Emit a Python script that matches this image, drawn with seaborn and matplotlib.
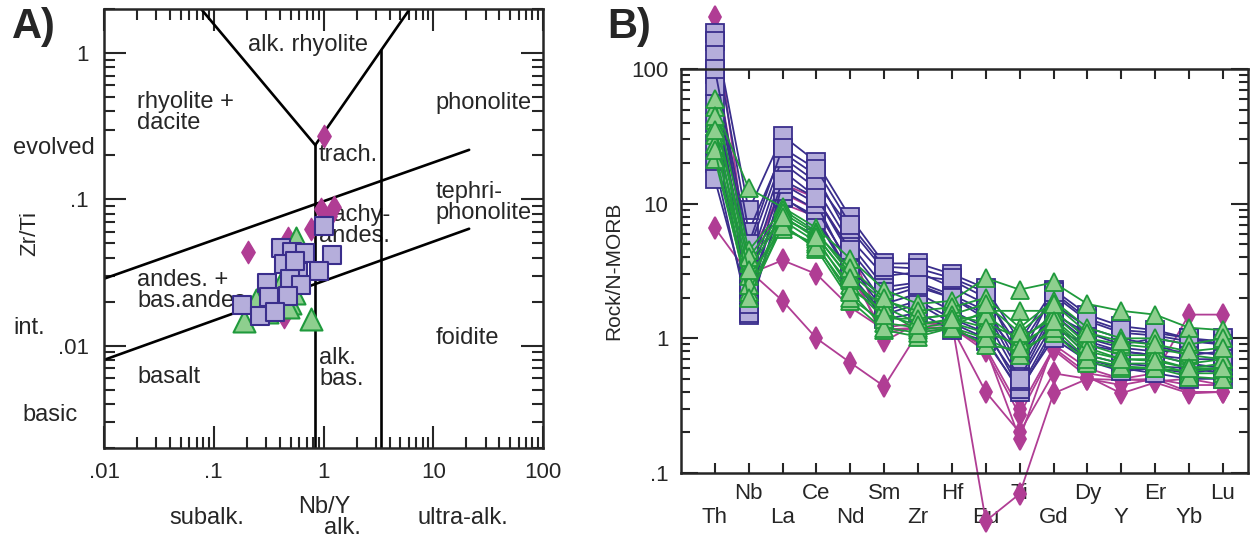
import pandas as pd
import seaborn as sns
import matplotlib.pyplot as plt
from matplotlib.ticker import FixedLocator, FixedFormatter, LogLocator, NullFormatter

sns.set_style("ticks")
plt.rcParams['font.family'] = ['Liberation Sans', 'DejaVu Sans']
plt.rcParams['axes.linewidth'] = 1.8

# ---------------- panel A : Nb/Y vs Zr/Ti ----------------
sq_nby = [0.41, 0.516, 0.678, 1.19, 0.437, 0.586, 0.91, 0.305, 0.495, 0.181,
          0.264, 0.318, 1.0, 0.55, 0.62, 0.47, 0.36]
sq_zrti = [0.0467, 0.0438, 0.0432, 0.0418, 0.0363, 0.032, 0.0325, 0.0269, 0.0287, 0.019,
           0.016, 0.0216, 0.066, 0.038, 0.026, 0.022, 0.017]
tri_nby = [0.41, 0.538, 0.361, 0.495, 0.305, 0.189, 0.77, 0.243, 0.56, 0.47]
tri_zrti = [0.0269, 0.023, 0.0197, 0.0197, 0.017, 0.0148, 0.0153, 0.0206, 0.0546, 0.0185]
dia_nby = [0.205, 1.0, 0.95, 1.25, 1.15, 0.77, 0.475, 0.437]
dia_zrti = [0.0438, 0.271, 0.086, 0.089, 0.077, 0.063, 0.0546, 0.0158]

# field boundaries (x list, y list)
boundaries = [
    ([0.0766, 0.84], [2.0, 0.235]),
    ([0.84, 6.1], [0.235, 2.0]),
    ([0.84, 0.84], [0.235, 0.002]),
    ([3.35, 3.35], [1.05, 0.002]),
    ([0.01, 21.2], [0.0287, 0.218]),
    ([0.01, 21.2], [0.0080, 0.063]),
]

# field names: (text, x, y, alignment)
field_labels = [
    ("alk. rhyolite", 0.72, 1.13, "center"),
    ("rhyolite +\ndacite", 0.02, 0.393, "left"),
    ("phonolite", 10.4, 0.456, "left"),
    ("trach.", 0.91, 0.201, "left"),
    ("tephri-\nphonolite", 10.4, 0.0955, "left"),
    ("trachy-\nandes.", 0.91, 0.0665, "left"),
    ("andes. +\nbas.andes.", 0.02, 0.0239, "left"),
    ("foidite", 10.4, 0.01135, "left"),
    ("alk.\nbas.", 0.91, 0.00702, "left"),
    ("basalt", 0.02, 0.00614, "left"),
]

# ---------------- panel B : N-MORB normalised spider ----------------
elements = ['Th', 'Nb', 'La', 'Ce', 'Nd', 'Sm', 'Zr', 'Hf', 'Eu', 'Ti',
            'Gd', 'Dy', 'Y', 'Er', 'Yb', 'Lu']

sq_profiles = [
    [186, 8.9, 32, 20.4, 7.9, 3.6, 3.6, 3.0, 2.35, 0.95, 2.3, 1.5, 1.23, 1.15, 1.0, 0.95],
    [160, 6.2, 24, 16.2, 5.5, 2.9, 3.1, 2.4, 1.8, 0.6, 1.8, 1.2, 1.0, 0.89, 0.75, 0.8],
    [127, 2.9, 17.5, 11.2, 4.1, 1.8, 2.15, 1.6, 1.2, 0.42, 1.2, 0.89, 0.8, 0.75, 0.65, 0.6],
    [92, 1.55, 11.2, 7.6, 2.9, 1.38, 1.55, 1.15, 0.95, 0.42, 1.0, 0.68, 0.57, 0.6, 0.55, 0.6],
    [55, 3.5, 20, 13, 5.0, 2.4, 2.6, 2.1, 1.6, 0.55, 1.6, 1.0, 0.85, 0.8, 0.8, 0.75],
    [27.6, 2.2, 12.5, 9.0, 3.5, 1.6, 1.9, 1.4, 1.1, 0.48, 1.3, 0.75, 0.65, 0.62, 0.6, 0.55],
    [15.2, 1.8, 14, 10, 3.2, 2.0, 2.4, 2.0, 1.5, 0.75, 1.5, 1.1, 0.9, 1.0, 0.9, 1.0],
    [75, 4.5, 22, 14.5, 6.5, 3.2, 2.9, 2.7, 2.0, 0.85, 2.1, 1.35, 1.1, 1.05, 0.95, 0.9],
    [100, 5.0, 26, 18, 7.0, 3.4, 3.3, 2.8, 2.2, 0.7, 2.2, 1.4, 1.15, 1.1, 1.0, 0.9],
    [40, 2.5, 15, 11, 4.5, 2.2, 2.5, 2.0, 1.4, 0.5, 1.5, 0.95, 0.8, 0.75, 0.7, 0.7],
    [20, 1.5, 11, 8.0, 3.0, 1.5, 1.8, 1.3, 1.0, 0.4, 1.1, 0.7, 0.6, 0.55, 0.5, 0.5],
]
tri_profiles = [
    [52, 13, 9.4, 6.6, 3.9, 2.3, 1.8, 1.9, 2.8, 2.3, 2.6, 1.8, 1.6, 1.5, 1.2, 1.15],
    [42, 3.6, 8.1, 5.5, 2.3, 1.6, 1.15, 1.23, 1.6, 1.6, 1.6, 1.0, 0.9, 0.85, 0.75, 0.7],
    [32.6, 2.04, 7.0, 4.6, 1.9, 1.15, 1.03, 1.2, 0.89, 0.82, 1.1, 0.66, 0.6, 0.6, 0.57, 0.6],
    [27.6, 2.9, 6.5, 5.0, 2.0, 1.3, 1.2, 1.3, 1.1, 0.9, 1.3, 0.75, 0.65, 0.65, 0.55, 0.55],
    [21.6, 2.2, 7.5, 5.2, 2.5, 1.4, 1.4, 1.5, 1.3, 1.0, 1.4, 0.85, 0.7, 0.7, 0.6, 0.65],
    [60, 4.5, 9.0, 6.2, 3.0, 1.9, 1.6, 1.7, 2.0, 1.2, 1.9, 1.2, 1.0, 1.0, 0.9, 1.0],
    [38, 2.5, 7.8, 5.8, 2.7, 1.7, 1.3, 1.35, 1.5, 0.95, 1.5, 0.9, 0.75, 0.75, 0.65, 0.7],
    [45, 4.0, 8.5, 6.0, 3.3, 2.0, 1.4, 1.5, 1.8, 1.1, 1.8, 1.1, 0.95, 0.9, 0.8, 0.85],
    [25, 2.0, 6.8, 4.8, 2.2, 1.2, 1.1, 1.2, 1.0, 0.75, 1.2, 0.7, 0.62, 0.6, 0.52, 0.5],
    [35, 3.2, 8.0, 5.7, 2.8, 1.5, 1.25, 1.4, 1.2, 0.85, 1.35, 0.8, 0.7, 0.68, 0.6, 0.6],
]
dia_profiles = [
    [242, 3.4, 14, 11, 4.5, 1.2, 1.3, 1.3, 0.044, 0.07, 0.39, 0.5, 0.45, 0.5, 0.45, 0.45],
    [6.6, 3.0, 3.8, 3.0, 1.7, 1.16, 1.2, 1.2, 0.8, 0.27, 0.82, 0.52, 0.39, 0.47, 0.39, 0.40],
    [60, 3.2, 1.9, 1.0, 0.66, 0.44, 1.1, 1.2, 0.4, 0.2, 0.55, 0.5, 0.49, 0.5, 0.4, 0.4],
    [120, 4.0, 12, 9, 3.5, 0.95, 1.3, 1.25, 0.85, 0.18, 0.9, 0.6, 0.5, 0.55, 1.5, 1.5],
    [90, 3.6, 10, 8, 3.0, 1.1, 1.2, 1.2, 0.85, 0.3, 0.85, 0.55, 0.5, 0.48, 0.5, 0.45],
]

# colours
SQ_FILL, SQ_EDGE = '#b5aedb', '#3a2e8c'
TRI_FILL, TRI_EDGE = '#8ecf8e', '#1f9a3c'
DIA_FILL, DIA_EDGE = '#b03d94', '#b03d94'


def profiles_to_df(profiles, group):
    rows = []
    for k, prof in enumerate(profiles):
        for i, v in enumerate(prof):
            rows.append({'sample': '%s%d' % (group, k), 'pos': i, 'value': v})
    return pd.DataFrame(rows)


def fig_xy(px, py):
    # pixel position (from top-left) -> figure fraction
    return px / 1258, (541 - py) / 541


fig = plt.figure(figsize=(12.58, 5.41), dpi=100)
axA = fig.add_axes([0.0827, 0.1719, 0.349, 0.8115])
axB = fig.add_axes([0.5413, 0.1257, 0.4507, 0.7468])

# ---- panel A
axA.set_xscale('log')
axA.set_yscale('log')
for bx, by in boundaries:
    axA.plot(bx, by, color='black', lw=1.9, zorder=2)

sns.scatterplot(x=dia_nby, y=dia_zrti, marker='d', s=130, color=DIA_FILL,
                edgecolor=DIA_EDGE, linewidth=1, ax=axA, zorder=3)
sns.scatterplot(x=tri_nby, y=tri_zrti, marker='^', s=250, color=TRI_FILL,
                edgecolor=TRI_EDGE, linewidth=1.5, ax=axA, zorder=4)
sns.scatterplot(x=sq_nby, y=sq_zrti, marker='s', s=180, color=SQ_FILL,
                edgecolor=SQ_EDGE, linewidth=1.5, ax=axA, zorder=5)

for txt, x, y, ha in field_labels:
    axA.text(x, y, txt, ha=ha, va='center', fontsize=17, linespacing=0.92, zorder=1)

axA.set_xlim(0.01, 100)
axA.set_ylim(0.002, 2)
axA.xaxis.set_major_locator(FixedLocator([0.01, 0.1, 1, 10, 100]))
axA.xaxis.set_major_formatter(FixedFormatter(['.01', '.1', '1', '10', '100']))
axA.yaxis.set_major_locator(FixedLocator([0.01, 0.1, 1]))
axA.yaxis.set_major_formatter(FixedFormatter(['.01', '.1', '1']))
for axis in (axA.xaxis, axA.yaxis):
    axis.set_minor_locator(LogLocator(base=10, subs=range(2, 10), numticks=20))
    axis.set_minor_formatter(NullFormatter())
axA.tick_params(which='both', direction='in', top=True, right=True, width=1.5,
                labelsize=16)
axA.tick_params(which='major', length=16)
axA.tick_params(which='minor', length=8)
axA.tick_params(axis='y', pad=11)
axA.tick_params(axis='x', pad=10)
axA.set_xlabel('')
axA.set_ylabel('')

fig.text(*fig_xy(12, 27), 'A)', fontsize=30, fontweight='bold', va='center')
fig.text(*fig_xy(13, 148), 'evolved', fontsize=17, va='center')
fig.text(*fig_xy(13, 328), 'int.', fontsize=17, va='center')
fig.text(*fig_xy(22, 415), 'basic', fontsize=17, va='center')
fig.text(*fig_xy(30, 234), 'Zr/Ti', fontsize=16, rotation=90, ha='center', va='center')
fig.text(*fig_xy(207, 518), 'subalk.', fontsize=17, ha='center', va='center')
fig.text(*fig_xy(324, 507), 'Nb/Y', fontsize=17, ha='center', va='center')
fig.text(*fig_xy(342, 528), 'alk.', fontsize=17, ha='center', va='center')
fig.text(*fig_xy(463, 518), 'ultra-alk.', fontsize=17, ha='center', va='center')

# ---- panel B
axB.set_yscale('log')
groups = [
    (dia_profiles, 'D', 'd', 11, DIA_FILL, DIA_EDGE),
    (sq_profiles, 'S', 's', 12.5, SQ_FILL, SQ_EDGE),
    (tri_profiles, 'T', '^', 12.5, TRI_FILL, TRI_EDGE),
]
for profiles, name, mk, ms, fill, edge in groups:
    df = profiles_to_df(profiles, name)
    sns.lineplot(data=df, x='pos', y='value', units='sample', estimator=None,
                 sort=False, color=edge, lw=1.3, marker=mk, markersize=ms,
                 markerfacecolor=fill, markeredgecolor=edge, markeredgewidth=1.3,
                 clip_on=False, legend=False, ax=axB)

axB.set_xlim(-1, 15.74)
axB.set_ylim(0.1, 100)
axB.set_xticks(range(len(elements)))
axB.set_xticklabels([el if i % 2 else '\n' + el for i, el in enumerate(elements)])
axB.yaxis.set_major_locator(FixedLocator([0.1, 1, 10, 100]))
axB.yaxis.set_major_formatter(FixedFormatter(['.1', '1', '10', '100']))
axB.yaxis.set_minor_locator(LogLocator(base=10, subs=range(2, 10), numticks=20))
axB.yaxis.set_minor_formatter(NullFormatter())
axB.tick_params(which='both', direction='in', top=True, right=True, width=1.5,
                labelsize=16)
axB.tick_params(axis='x', length=7, pad=7)
axB.tick_params(axis='y', which='major', length=12, pad=9)
axB.tick_params(axis='y', which='minor', length=6.5)
axB.set_xlabel('')
axB.set_ylabel('Rock/N-MORB', fontsize=15, labelpad=6)

fig.text(*fig_xy(607, 27), 'B)', fontsize=30, fontweight='bold', va='center')

fig.savefig('out.png', dpi=100)
